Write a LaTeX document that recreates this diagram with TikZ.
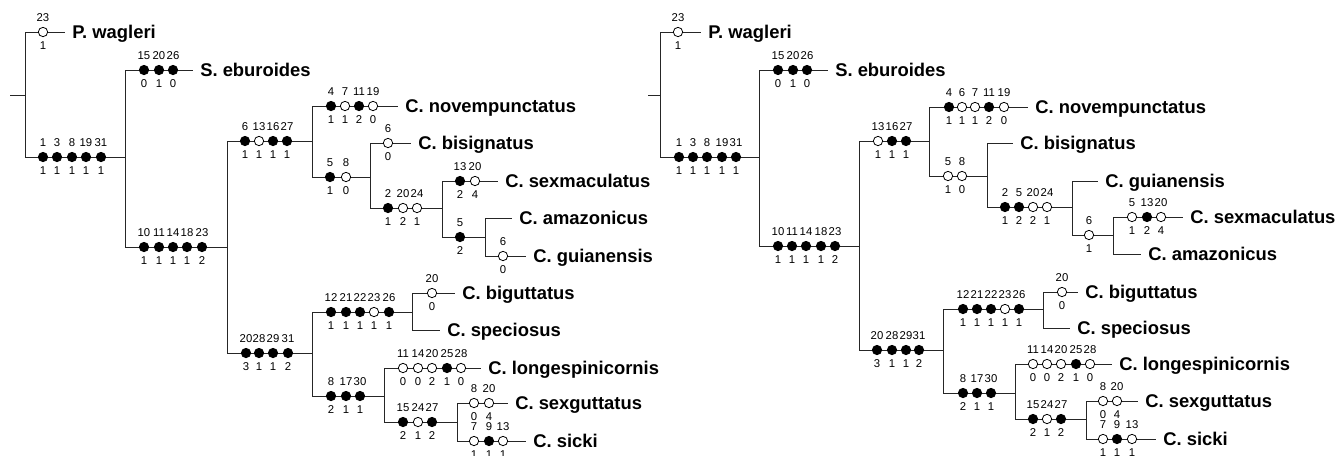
\documentclass[tikz,border=0pt]{standalone}
\usepackage{fontspec}
\setmainfont{Liberation Sans}
\newcommand\chm[2]{\foreach \mx/\mf/\mt/\mb in {#2}{%
  \ifnum\mf=1 \def\mcol{black}\else\def\mcol{white}\fi
  \node[chr,fill=\mcol] (c\mx-#1) at (\mx,#1) {};
  \node[num] (t\mx-#1) at (\mx,#1-14.5) {\mt};
  \node[num] (b\mx-#1) at (\mx,#1+14) {\mb};}}
\newcommand\brleaf[2]{\draw[br] (#1) |- ([xshift=-5pt]#2.west);}
\newcommand\brint[2]{\draw[br] (#1) |- (#2);}
\begin{document}
\begin{tikzpicture}[x=0.75pt,y=-0.75pt,
  br/.style={line width=0.75pt, draw=black!85},
  chr/.style={circle, draw=black, line width=0.6pt, minimum size=7pt, inner sep=0pt},
  num/.style={font=\fontsize{8.5}{9}\selectfont, inner sep=0pt},
  leaf/.style={anchor=west, inner sep=0pt, font=\fontsize{13.8}{16}\selectfont\bfseries, text height=9.9pt, text depth=0pt}]
\useasboundingbox (0,0) rectangle (1342,455);

% ---------------- left tree ----------------
\coordinate (Ls) at (10,95);
\coordinate (L0) at (25,95);
\coordinate (LA) at (125,157);
\coordinate (LB) at (227,247);
\coordinate (LC) at (312,141);
\coordinate (LD) at (370,177);
\coordinate (LE) at (442,208);
\coordinate (LF) at (485,237);
\coordinate (LG) at (312,353);
\coordinate (LH) at (412,312);
\coordinate (LI) at (384,396);
\coordinate (LJ) at (457,422);

\node[leaf] (Lpw) at (72,32) {P. wagleri};
\node[leaf] (Leb) at (200,70) {S. eburoides};
\node[leaf] (Lnov) at (405,106) {C. novempunctatus};
\node[leaf] (Lbis) at (418,143) {C. bisignatus};
\node[leaf] (Lsexm) at (505,181) {C. sexmaculatus};
\node[leaf] (Lama) at (519,218) {C. amazonicus};
\node[leaf] (Lgui) at (533,256) {C. guianensis};
\node[leaf] (Lbig) at (462,293) {C. biguttatus};
\node[leaf] (Lspe) at (447,330) {C. speciosus};
\node[leaf] (Llon) at (488,368) {C. longespinicornis};
\node[leaf] (Lsexg) at (515,403) {C. sexguttatus};
\node[leaf] (Lsic) at (533,441) {C. sicki};

\draw[br] (Ls) -- (L0);
\brleaf{L0}{Lpw} \brint{L0}{LA}
\brleaf{LA}{Leb} \brint{LA}{LB}
\brint{LB}{LC} \brint{LB}{LG}
\brleaf{LC}{Lnov} \brint{LC}{LD}
\brleaf{LD}{Lbis} \brint{LD}{LE}
\brleaf{LE}{Lsexm} \brint{LE}{LF}
\brleaf{LF}{Lama} \brleaf{LF}{Lgui}
\brint{LG}{LH} \brint{LG}{LI}
\brleaf{LH}{Lbig} \brleaf{LH}{Lspe}
\brleaf{LI}{Llon} \brint{LI}{LJ}
\brleaf{LJ}{Lsexg} \brleaf{LJ}{Lsic}

\chm{32}{43/0/23/1}
\chm{157}{43/1/1/1,57/1/3/1,72/1/8/1,86/1/19/1,101/1/31/1}
\chm{70}{144/1/15/0,159/1/20/1,173/1/26/0}
\chm{247}{144/1/10/1,159/1/11/1,173/1/14/1,187/1/18/1,202/1/23/2}
\chm{141}{245/1/6/1,259/0/13/1,273/1/16/1,287/1/27/1}
\chm{106}{331/1/4/1,345/0/7/1,359/1/11/2,373/0/19/0}
\chm{177}{330/1/5/1,346/0/8/0}
\chm{143}{388/0/6/0}
\chm{208}{388/1/2/1,403/0/20/2,417/0/24/1}
\chm{181}{460/1/13/2,475/0/20/4}
\chm{237}{460/1/5/2}
\chm{256}{503/0/6/0}
\chm{353}{246/1/20/3,259/1/28/1,273/1/29/1,288/1/31/2}
\chm{312}{331/1/12/1,346/1/21/1,360/1/22/1,374/0/23/1,389/1/26/1}
\chm{293}{432/0/20/0}
\chm{396}{331/1/8/2,346/1/17/1,360/1/30/1}
\chm{368}{403/0/11/0,418/0/14/0,432/0/20/2,447/1/25/1,461/0/28/0}
\chm{422}{403/1/15/2,418/0/24/1,432/1/27/2}
\chm{403}{474/0/8/0,489/0/20/4}
\chm{441}{474/0/7/1,489/1/9/1,503/0/13/1}

% ---------------- right tree ----------------
\coordinate (Rs) at (648,95);
\coordinate (R0) at (660,95);
\coordinate (RA) at (759,157);
\coordinate (RB) at (859,246);
\coordinate (RC) at (929,141);
\coordinate (RD) at (987,176);
\coordinate (RE) at (1072,207);
\coordinate (RF) at (1113,235);
\coordinate (RG) at (943,350);
\coordinate (RH) at (1043,309);
\coordinate (RI) at (1015,393);
\coordinate (RJ) at (1086,419);

\node[leaf] (Rpw) at (708,32) {P. wagleri};
\node[leaf] (Reb) at (835,70) {S. eburoides};
\node[leaf] (Rnov) at (1035,107) {C. novempunctatus};
\node[leaf] (Rbis) at (1020,143) {C. bisignatus};
\node[leaf] (Rgui) at (1105,181) {C. guianensis};
\node[leaf] (Rsexm) at (1190,217) {C. sexmaculatus};
\node[leaf] (Rama) at (1148,254) {C. amazonicus};
\node[leaf] (Rbig) at (1085,292) {C. biguttatus};
\node[leaf] (Rspe) at (1077,328) {C. speciosus};
\node[leaf] (Rlon) at (1119,364) {C. longespinicornis};
\node[leaf] (Rsexg) at (1145,401) {C. sexguttatus};
\node[leaf] (Rsic) at (1163,439) {C. sicki};

\draw[br] (Rs) -- (R0);
\brleaf{R0}{Rpw} \brint{R0}{RA}
\brleaf{RA}{Reb} \brint{RA}{RB}
\brint{RB}{RC} \brint{RB}{RG}
\brleaf{RC}{Rnov} \brint{RC}{RD}
\brleaf{RD}{Rbis} \brint{RD}{RE}
\brleaf{RE}{Rgui} \brint{RE}{RF}
\brleaf{RF}{Rsexm} \brleaf{RF}{Rama}
\brint{RG}{RH} \brint{RG}{RI}
\brleaf{RH}{Rbig} \brleaf{RH}{Rspe}
\brleaf{RI}{Rlon} \brint{RI}{RJ}
\brleaf{RJ}{Rsexg} \brleaf{RJ}{Rsic}

\chm{32}{678/0/23/1}
\chm{157}{679/1/1/1,693/1/3/1,707/1/8/1,722/1/19/1,736/1/31/1}
\chm{70}{778/1/15/0,793/1/20/1,807/1/26/0}
\chm{246}{778/1/10/1,792/1/11/1,806/1/14/1,821/1/18/1,835/1/23/2}
\chm{141}{878/0/13/1,892/1/16/1,906/1/27/1}
\chm{107}{949/1/4/1,962/0/6/1,975/0/7/1,989/1/11/2,1004/0/19/0}
\chm{176}{948/0/5/1,962/0/8/0}
\chm{207}{1005/1/2/1,1019/1/5/2,1033/0/20/2,1047/0/24/1}
\chm{235}{1089/0/6/1}
\chm{217}{1132/0/5/1,1147/1/13/2,1161/0/20/4}
\chm{350}{877/1/20/3,892/1/28/1,906/1/29/1,919/1/31/2}
\chm{309}{963/1/12/1,977/1/21/1,991/1/22/1,1005/0/23/1,1019/1/26/1}
\chm{292}{1062/0/20/0}
\chm{393}{963/1/8/2,977/1/17/1,991/1/30/1}
\chm{364}{1033/0/11/0,1047/0/14/0,1061/0/20/2,1076/1/25/1,1090/0/28/0}
\chm{419}{1033/1/15/2,1047/0/24/1,1061/1/27/2}
\chm{401}{1103/0/8/0,1117/0/20/4}
\chm{439}{1103/0/7/1,1117/1/9/1,1132/0/13/1}
\end{tikzpicture}
\end{document}
